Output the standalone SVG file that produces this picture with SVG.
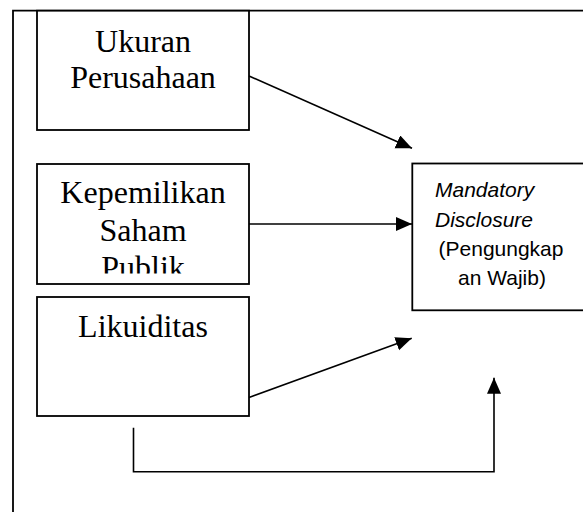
<svg xmlns="http://www.w3.org/2000/svg" width="583" height="512" viewBox="0 0 583 512">
<style>
.box{fill:#fff;stroke:#000;stroke-width:1.8}
.lbl{font-family:"Liberation Serif","Times New Roman",serif;font-size:32px;fill:#000;text-anchor:middle}
.tgt{font-family:"Liberation Sans",Arial,sans-serif;font-size:21px;fill:#000}
.con{fill:none;stroke:#000;stroke-width:1.6}
</style>
<defs>
<marker id="arr" markerUnits="userSpaceOnUse" markerWidth="17" markerHeight="15" refX="16" refY="7" orient="auto">
<path d="M0,0 L16,7 L0,14 Z" fill="#000"/>
</marker>
<clipPath id="clip2"><rect x="37" y="164" width="212" height="109.5"/></clipPath>
</defs>
<rect width="583" height="512" fill="#fff"/>
<g id="frame"><path d="M13,512 V10.7 H583" fill="none" stroke="#000" stroke-width="1.8"/></g>
<g id="node-ukuran">
<rect class="box" x="37" y="10.7" width="212" height="119.3"/>
<text class="lbl" x="143" y="52">Ukuran</text>
<text class="lbl" x="143" y="88">Perusahaan</text>
</g>
<g id="node-kepemilikan">
<rect class="box" x="37" y="164" width="212" height="120"/>
<g clip-path="url(#clip2)">
<text class="lbl" x="143" y="203">Kepemilikan</text>
<text class="lbl" x="143" y="240.5">Saham</text>
<text class="lbl" x="143" y="278">Publik</text>
</g>
</g>
<g id="node-likuiditas">
<rect class="box" x="37" y="297" width="212" height="119"/>
<text class="lbl" x="143" y="337">Likuiditas</text>
</g>
<g id="node-mandatory">
<rect class="box" x="412.3" y="163.5" width="200" height="146.8"/>
<text class="tgt" x="435" y="197" font-style="italic">Mandatory</text>
<text class="tgt" x="435" y="226.5" font-style="italic">Disclosure</text>
<text class="tgt" x="501" y="256" text-anchor="middle">(Pengungkap</text>
<text class="tgt" x="502" y="285" text-anchor="middle">an Wajib)</text>
</g>
<g id="connectors">
<line class="con" x1="249" y1="76" x2="412" y2="148.3" marker-end="url(#arr)"/>
<line class="con" x1="249" y1="224" x2="412" y2="224" marker-end="url(#arr)"/>
<line class="con" x1="249" y1="397.5" x2="411.7" y2="338.3" marker-end="url(#arr)"/>
<polyline class="con" points="133.5,427.7 133.5,471.8 494,471.8 494,377.7" marker-end="url(#arr)"/>
</g>
</svg>
